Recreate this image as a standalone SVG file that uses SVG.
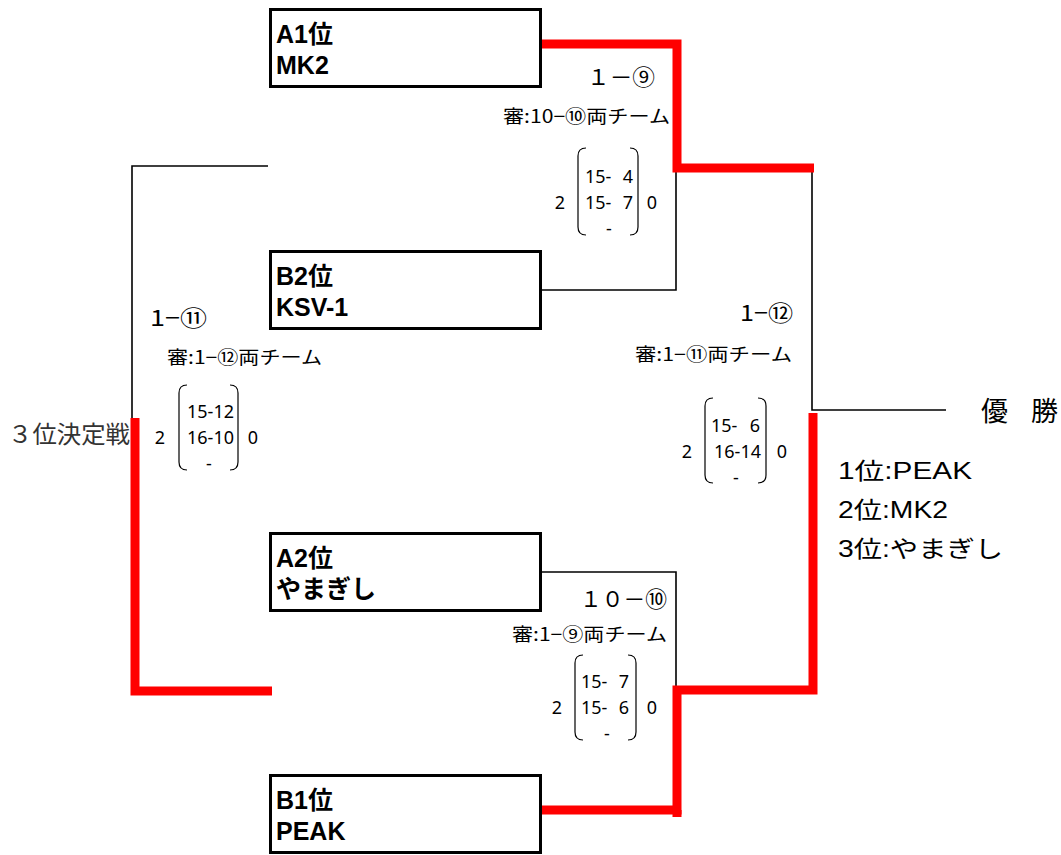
<svg xmlns="http://www.w3.org/2000/svg" width="1061" height="855" viewBox="0 0 1061 855">
<style>
.box{fill:#fff;stroke:#000;stroke-width:3}
.bt{font-family:"Liberation Sans","Noto Sans CJK JP",sans-serif;font-weight:bold;font-size:25px;fill:#000}
.ln{fill:none;stroke:#000;stroke-width:1.6}
.red{fill:none;stroke:#ff0000;stroke-width:9;stroke-linejoin:miter}
.par{fill:none;stroke:#000;stroke-width:1.2}
.sc{font-family:"Noto Sans","Liberation Sans",sans-serif;font-size:18px;fill:#000}
.e{text-anchor:end}
.m{text-anchor:middle}
.big{font-family:"Noto Sans CJK JP",sans-serif;font-size:22px;fill:#000}
.ref{font-family:"Noto Sans CJK JP",sans-serif;font-size:18px;fill:#000}
.res{font-family:"Liberation Sans","Noto Sans CJK JP",sans-serif;font-size:23px;fill:#000}
</style>
<g id="connectors">
<polyline class="ln" points="268,166 132,166 132,420"/>
<polyline class="ln" points="541,290 676,290 676,172"/>
<polyline class="ln" points="542,572 676,572 676,688"/>
<polyline class="ln" points="812,168 812,410 946,410"/>
<polyline class="red" points="538,44 677,44 677,168 814,168"/>
<polyline class="red" points="538,810 677,810 677,690 813,690 813,413"/>
<polyline class="red" points="272,691 135,691 135,418"/>
<line x1="677" y1="810" x2="677" y2="817" stroke="#ff0000" stroke-width="9"/>
</g>
<g id="nodeA1">
<rect class="box" x="270.5" y="9.5" width="270" height="77"/>
<text class="bt" x="276" y="43">A1位</text>
<text class="bt" x="276" y="74">MK2</text>
</g>
<g id="nodeB2">
<rect class="box" x="270.5" y="251.5" width="270" height="77"/>
<text class="bt" x="276" y="285">B2位</text>
<text class="bt" x="276" y="316">KSV-1</text>
</g>
<g id="nodeA2">
<rect class="box" x="270.5" y="533.5" width="270" height="77"/>
<text class="bt" x="276" y="567">A2位</text>
<text class="bt" x="276" y="598">やまぎし</text>
</g>
<g id="nodeB1">
<rect class="box" x="270.5" y="775.5" width="270" height="77"/>
<text class="bt" x="276" y="809">B1位</text>
<text class="bt" x="276" y="840">PEAK</text>
</g>
<g id="match1">
<text class="big" x="587" y="85" textLength="68" lengthAdjust="spacingAndGlyphs">１－⑨</text>
<text class="ref" x="503" y="123" textLength="167" lengthAdjust="spacingAndGlyphs">審:10−⑩両チーム</text>
<path class="par" d="M586,148 Q578,148 578,156 V227 Q578,235 586,235"/>
<path class="par" d="M630,148 Q638,148 638,156 V227 Q638,235 630,235"/>
<text class="sc" x="585" y="183">15-</text><text class="sc e" x="633" y="183">4</text>
<text class="sc" x="585" y="209">15-</text><text class="sc e" x="633" y="209">7</text>
<text class="sc m" x="609" y="235">-</text>
<text class="sc m" x="560" y="209">2</text>
<text class="sc m" x="652" y="209">0</text>
</g>
<g id="match2">
<text class="big" x="580" y="607" textLength="87" lengthAdjust="spacingAndGlyphs">１０－⑩</text>
<text class="ref" x="512" y="641" textLength="155" lengthAdjust="spacingAndGlyphs">審:1−⑨両チーム</text>
<path class="par" d="M583,655 Q575,655 575,663 V732 Q575,740 583,740"/>
<path class="par" d="M628,655 Q636,655 636,663 V732 Q636,740 628,740"/>
<text class="sc" x="581" y="688">15-</text><text class="sc e" x="629" y="688">7</text>
<text class="sc" x="581" y="714">15-</text><text class="sc e" x="629" y="714">6</text>
<text class="sc m" x="607" y="740">-</text>
<text class="sc m" x="557" y="714">2</text>
<text class="sc m" x="652" y="714">0</text>
</g>
<g id="match3">
<text class="big" x="150" y="326" textLength="57" lengthAdjust="spacingAndGlyphs">1−⑪</text>
<text class="ref" x="167" y="364" textLength="155" lengthAdjust="spacingAndGlyphs">審:1−⑫両チーム</text>
<path class="par" d="M187,385 Q179,385 179,393 V462 Q179,470 187,470"/>
<path class="par" d="M230,385 Q238,385 238,393 V462 Q238,470 230,470"/>
<text class="sc e" x="234" y="418">15-12</text>
<text class="sc e" x="234" y="444">16-10</text>
<text class="sc m" x="209" y="470">-</text>
<text class="sc m" x="160" y="444">2</text>
<text class="sc m" x="253" y="444">0</text>
<text x="8" y="443" font-family="Noto Sans CJK JP, sans-serif" font-size="24" fill="#333" textLength="122" lengthAdjust="spacingAndGlyphs">３位決定戦</text>
</g>
<g id="match4">
<text class="big" x="740" y="321" textLength="53" lengthAdjust="spacingAndGlyphs">1−⑫</text>
<text class="ref" x="635" y="361" textLength="157" lengthAdjust="spacingAndGlyphs">審:1−⑪両チーム</text>
<path class="par" d="M713,398 Q705,398 705,406 V475 Q705,483 713,483"/>
<path class="par" d="M758,398 Q766,398 766,406 V475 Q766,483 758,483"/>
<text class="sc" x="711" y="432">15-</text><text class="sc e" x="760" y="432">6</text>
<text class="sc e" x="761" y="458">16-14</text>
<text class="sc m" x="736" y="484">-</text>
<text class="sc m" x="687" y="458">2</text>
<text class="sc m" x="782" y="458">0</text>
</g>
<g id="result">
<text font-family="Noto Sans CJK JP, sans-serif" font-size="27" fill="#000"><tspan x="981" y="421">優</tspan><tspan x="1031" y="421">勝</tspan></text>
<text class="res" x="838" y="479" textLength="134" lengthAdjust="spacingAndGlyphs">1位:PEAK</text>
<text class="res" x="838" y="518" textLength="110" lengthAdjust="spacingAndGlyphs">2位:MK2</text>
<text class="res" x="838" y="557" textLength="165" lengthAdjust="spacingAndGlyphs">3位:やまぎし</text>
</g>
</svg>
